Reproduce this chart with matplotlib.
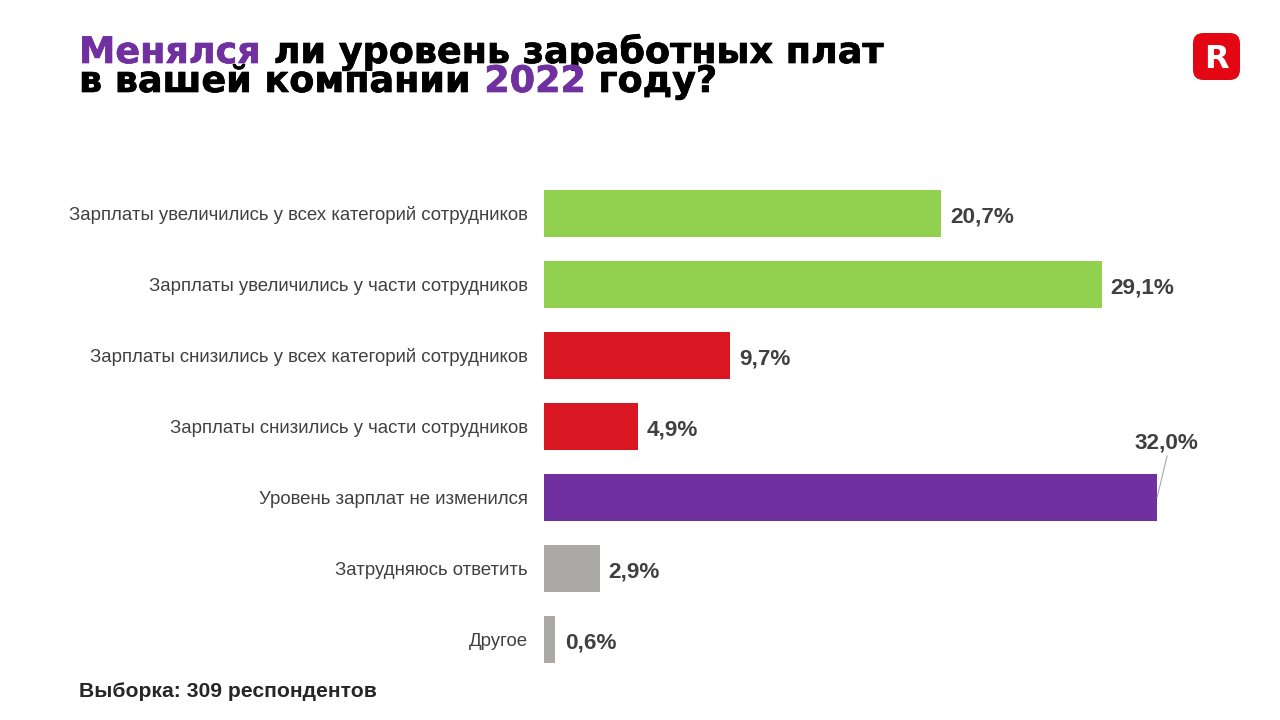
import matplotlib
matplotlib.use("Agg")
import matplotlib.pyplot as plt
import matplotlib.patheffects as pe
from matplotlib.patches import FancyBboxPatch

W, H = 1280, 720

categories = ["Зарплаты увеличились у всех категорий сотрудников",
              "Зарплаты увеличились у части сотрудников",
              "Зарплаты снизились у всех категорий сотрудников",
              "Зарплаты снизились у части сотрудников",
              "Уровень зарплат не изменился",
              "Затрудняюсь ответить",
              "Другое"]
values = [20.7, 29.1, 9.7, 4.9, 32.0, 2.9, 0.6]
value_labels = ["20,7%", "29,1%", "9,7%", "4,9%", "32,0%", "2,9%", "0,6%"]
bar_colors = ["#92D050", "#92D050", "#D81723", "#D81723", "#7030A0", "#AAA9A6", "#AAA9A6"]

title_line1 = [("Менялся", "#7030A0"), (" ли уровень заработных плат", "#000000")]
title_line2 = [("в вашей компании ", "#000000"), ("2022", "#7030A0"), (" году?", "#000000")]

plt.rcParams["font.family"] = ["Liberation Sans", "DejaVu Sans"]

fig = plt.figure(figsize=(12.8, 7.2), dpi=100, facecolor="white")

# axes placed so that 0 is at x=544 and 19.16 px = 1 percent
ax = fig.add_axes([544 / W, 1 - 675 / H, 700 / W, 497 / H])
ax.barh(range(len(values)), values, height=47 / 71, color=bar_colors)
ax.set_xlim(0, 700 / 19.16)
ax.set_ylim(6.5, -0.5)
ax.axis("off")

for i, (name, val, lab) in enumerate(zip(categories, values, value_labels)):
    fig.text(528 / W, 1 - (215.5 + 71 * i) / H, name, ha="right", va="center",
             fontsize=13.45, color="#404040")
    if i == 4:
        # the largest bar has its label above, with a thin leader line
        ax.annotate("", xy=(val, i), xytext=(7.2, 30), textcoords="offset points",
                    arrowprops=dict(arrowstyle="-", color="#A6A6A6", lw=0.8, shrinkA=0, shrinkB=0))
        ax.annotate(lab, xy=(val, i), xytext=(6.5, 39), textcoords="offset points",
                    ha="center", va="center", fontsize=16.2, fontweight="bold", color="#404040")
    else:
        ax.annotate(lab, xy=(val, i), xytext=(6.6, -2.2), textcoords="offset points",
                    ha="left", va="center", fontsize=16.2, fontweight="bold", color="#404040")

# title pieces are laid out one after the other to get the two colours
renderer = fig.canvas.get_renderer()
for line, base in ((title_line1, 63), (title_line2, 92)):
    x = 79
    for piece, col in line:
        t = fig.text(x / W, 1 - base / H, piece.replace(" ", "\u00a0"), ha="left", va="baseline",
                     fontsize=26.3, fontweight="bold", family="DejaVu Sans", color=col,
                     path_effects=[pe.withStroke(linewidth=0.5, foreground=col)])
        x = t.get_window_extent(renderer).x1

fig.text(79 / W, 1 - 691.5 / H, "Выборка: 309 респондентов", ha="left", va="center",
         fontsize=15.2, fontweight="bold", color="#262626")

# logo
fig.add_artist(FancyBboxPatch((1193 / W, 1 - 80 / H), 47 / W, 47 / H, transform=fig.transFigure,
                              boxstyle="round,pad=0,rounding_size=0.008", mutation_aspect=16 / 9,
                              facecolor="#E30613", edgecolor="none"))
fig.text(1216.5 / W, 1 - 68 / H, "R", ha="center", va="baseline", fontsize=23, fontweight="bold",
         family="DejaVu Sans", color="white")

fig.savefig("out.png", dpi=100)
